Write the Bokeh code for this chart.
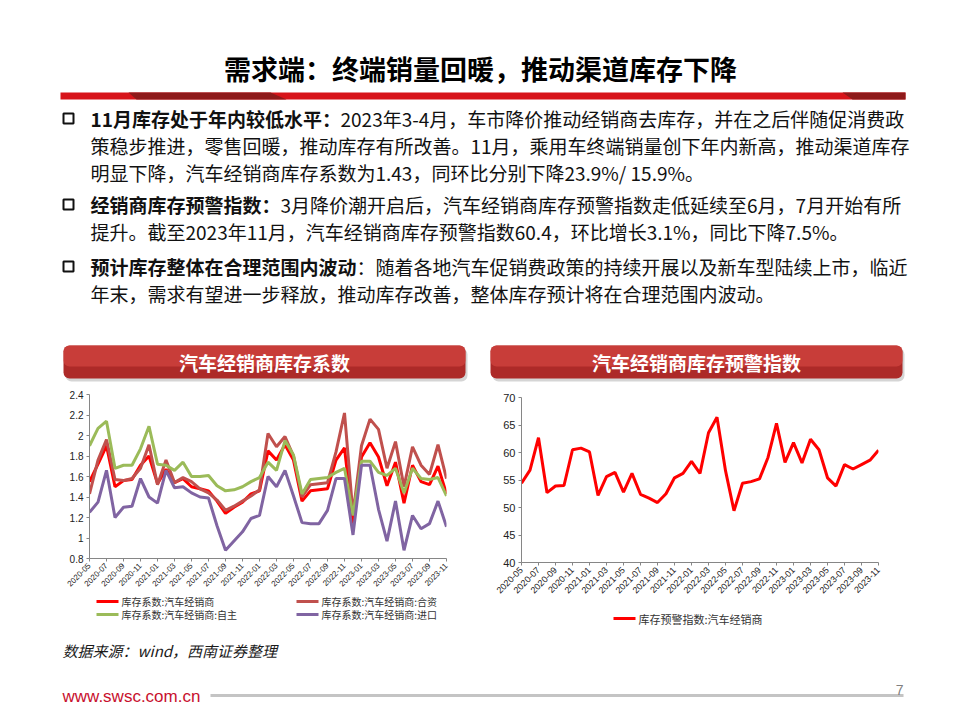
import math
from bokeh.plotting import figure
from bokeh.models import Range1d, Label, FixedTicker, CustomJSTickFormatter
from bokeh.layouts import column, row
from bokeh.embed import file_html
from bokeh.resources import INLINE

# ---------------- data ----------------
months = ["2020-05", "2020-06", "2020-07", "2020-08", "2020-09", "2020-10", "2020-11", "2020-12",
          "2021-01", "2021-02", "2021-03", "2021-04", "2021-05", "2021-06", "2021-07", "2021-08",
          "2021-09", "2021-10", "2021-11", "2021-12", "2022-01", "2022-02", "2022-03", "2022-04",
          "2022-05", "2022-06", "2022-07", "2022-08", "2022-09", "2022-10", "2022-11", "2022-12",
          "2023-01", "2023-02", "2023-03", "2023-04", "2023-05", "2023-06", "2023-07", "2023-08",
          "2023-09", "2023-10", "2023-11"]

coef_dealer = [1.55, 1.72, 1.90, 1.50, 1.56, 1.57, 1.71, 1.80, 1.53, 1.67, 1.54, 1.58, 1.50, 1.48,
               1.46, 1.36, 1.24, 1.30, 1.35, 1.43, 1.46, 1.85, 1.76, 1.91, 1.76, 1.36, 1.46, 1.47,
               1.48, 1.76, 1.88, 1.14, 1.79, 1.93, 1.79, 1.51, 1.74, 1.34, 1.71, 1.55, 1.52, 1.70, 1.43]
coef_jv = [1.43, 1.76, 1.96, 1.57, 1.56, 1.58, 1.68, 1.91, 1.52, 1.76, 1.54, 1.59, 1.55, 1.48,
           1.44, 1.37, 1.27, 1.31, 1.36, 1.41, 1.47, 2.02, 1.89, 1.99, 1.80, 1.40, 1.52, 1.53,
           1.54, 1.84, 2.22, 1.23, 1.90, 2.16, 2.06, 1.68, 1.94, 1.50, 1.89, 1.71, 1.62, 1.91, 1.58]
coef_domestic = [1.90, 2.07, 2.14, 1.68, 1.71, 1.71, 1.87, 2.09, 1.72, 1.71, 1.66, 1.74, 1.60, 1.60,
                 1.61, 1.51, 1.46, 1.47, 1.50, 1.55, 1.59, 1.74, 1.66, 1.95, 1.81, 1.43, 1.57, 1.58,
                 1.59, 1.64, 1.68, 1.22, 1.75, 1.75, 1.64, 1.61, 1.68, 1.44, 1.68, 1.58, 1.57, 1.59, 1.41]
coef_import = [1.25, 1.35, 1.66, 1.20, 1.30, 1.31, 1.58, 1.40, 1.34, 1.66, 1.49, 1.50, 1.44, 1.40,
               1.39, 1.12, 0.88, 0.97, 1.06, 1.19, 1.22, 1.60, 1.50, 1.66, 1.41, 1.15, 1.14, 1.14,
               1.27, 1.58, 1.58, 1.03, 1.71, 1.71, 1.28, 0.97, 1.36, 0.88, 1.22, 1.09, 1.14, 1.36, 1.11]
warning_index = [54.4, 56.8, 62.7, 52.7, 53.9, 54.0, 60.5, 60.8, 60.1, 52.2, 55.6, 56.4, 52.8, 56.2,
                 52.4, 51.7, 50.9, 52.5, 55.4, 56.2, 58.4, 56.2, 63.6, 66.4, 56.7, 49.4, 54.4, 54.7,
                 55.2, 59.1, 65.3, 58.2, 61.8, 58.1, 62.4, 60.5, 55.4, 53.9, 57.8, 57.0, 57.8, 58.6, 60.4]

coef_series = ["库存系数:汽车经销商", "库存系数:汽车经销商:合资",
               "库存系数:汽车经销商:自主", "库存系数:汽车经销商:进口"]
warning_series = "库存预警指数:汽车经销商"
coef_ticks = [0.8, 1.0, 1.2, 1.4, 1.6, 1.8, 2.0, 2.2, 2.4]
warning_ticks = [40, 45, 50, 55, 60, 65, 70]

title_text = "需求端：终端销量回暖，推动渠道库存下降"
left_banner = "汽车经销商库存系数"
right_banner = "汽车经销商库存预警指数"
source_text = "数据来源：wind，西南证券整理"

CJK = "Noto Sans CJK SC"
LAT = "Liberation Sans"
coef_colors = ["#ff0000", "#c0504d", "#9bbb59", "#8064a2"]
warning_color = "#ff0000"


def slide_fig(x0, x1, ytop, ybot, fx0=None, fx1=None):
    """Decoration canvas spanning slide x0..x1 / ytop..ybot.
    If fx0/fx1 are given the frame is restricted to those slide columns
    (so that it lines up with the chart frame above it in a column)."""
    w = x1 - x0
    p = figure(width=w, height=ybot - ytop,
               x_range=Range1d(fx0 if fx0 is not None else x0, fx1 if fx1 is not None else x1),
               y_range=Range1d(ybot, ytop), output_backend="svg", toolbar_location=None,
               x_axis_type=None, y_axis_type=None, min_border=0)
    if fx0 is not None:
        p.min_border_left = fx0 - x0
        p.min_border_right = x1 - fx1
    p.grid.visible = False
    p.outline_line_color = None
    p.background_fill_color = "white"
    p.border_fill_color = "white"
    return p


# ---------------- header ----------------
top = slide_fig(0, 960, 0, 385)
top.add_layout(Label(x=480, y=68, text=title_text, text_align="center", text_baseline="middle",
                     text_font=CJK, text_font_size="27px", text_font_style="bold",
                     text_color="#000000"))
# red rule under title
top.quad(left=60, right=905, top=92, bottom=99, fill_color="#d7141a", line_color=None)
top.patch(x=[128, 270, 286, 136], y=[92, 92, 99, 99], fill_color="#8e1a1a", line_color=None)
top.patch(x=[842, 905, 905, 852], y=[92, 92, 99, 99], fill_color="#8e1a1a", line_color=None)

# bullet text
lines = [
    (118, "11月库存处于年内较低水平：", "2023年3-4月，车市降价推动经销商去库存，并在之后伴随促消费政", 340, True),
    (145, None, "策稳步推进，零售回暖，推动库存有所改善。11月，乘用车终端销量创下年内新高，推动渠道库存", 90, False),
    (172, None, "明显下降，汽车经销商库存系数为1.43，同环比分别下降23.9%/ 15.9%。", 90, False),
    (204, "经销商库存预警指数：", "3月降价潮开启后，汽车经销商库存预警指数走低延续至6月，7月开始有所", 280, True),
    (231, None, "提升。截至2023年11月，汽车经销商库存预警指数60.4，环比增长3.1%，同比下降7.5%。", 90, False),
    (266, "预计库存整体在合理范围内波动", "：随着各地汽车促销费政策的持续开展以及新车型陆续上市，临近", 356, True),
    (293, None, "年末，需求有望进一步释放，推动库存改善，整体库存预计将在合理范围内波动。", 90, False),
]
for y, bold, normal, nx, bullet in lines:
    if bullet:
        top.quad(left=63, right=73, top=y - 5, bottom=y + 5, fill_color=None,
                 line_color="#111111", line_width=2)
    if bold:
        top.add_layout(Label(x=90, y=y, text=bold, text_baseline="middle", text_font=CJK,
                             text_font_size="19px", text_font_style="bold", text_color="#111111"))
    top.add_layout(Label(x=nx, y=y, text=normal, text_baseline="middle", text_font=CJK,
                         text_font_size="19px", text_color="#111111"))

# banners
for (l, r, txt) in [(63, 465, left_banner), (490, 902, right_banner)]:
    top.quad(left=l + 2, right=r + 2, top=348, bottom=381, fill_color="#888888", fill_alpha=0.35,
             line_color=None, border_radius=6)
    top.quad(left=l, right=r, top=345, bottom=378, fill_color="#ad2a28", line_color=None,
             border_radius=6)
    top.quad(left=l, right=r, top=345, bottom=366, fill_color="#d2443f", fill_alpha=0.75,
             line_color=None, border_radius=6)
    top.add_layout(Label(x=(l + r) / 2, y=362, text=txt, text_align="center",
                         text_baseline="middle", text_font=CJK, text_font_size="19px",
                         text_font_style="bold", text_color="white"))


# ---------------- charts ----------------
def style_axes(p, ylab_size, xlab_size):
    for ax in (p.xaxis, p.yaxis):
        ax.axis_line_color = "#868686"
        ax.major_tick_line_color = "#868686"
        ax.major_tick_out = 3
        ax.major_tick_in = 0
        ax.minor_tick_line_color = None
        ax.major_label_text_color = "#222222"
        ax.major_label_text_font = LAT
    p.yaxis.major_label_text_font_size = ylab_size
    p.xaxis.major_label_text_font_size = xlab_size
    p.yaxis.major_label_standoff = 3
    p.xaxis.major_label_standoff = 3
    p.xaxis.ticker = FixedTicker(ticks=list(range(0, len(months), 2)))
    p.xaxis.formatter = CustomJSTickFormatter(args=dict(labels=months),
                                              code="return labels[Math.round(tick)] || ''")
    p.xaxis.major_label_orientation = math.pi / 4
    p.grid.visible = False
    p.outline_line_color = None


def legend_entry(p, x, y, color, label, size):
    p.segment(x0=x, y0=y, x1=x + 22, y1=y, line_color=color, line_width=3)
    p.add_layout(Label(x=x + 25, y=y, text=label, text_baseline="middle", text_font=CJK,
                       text_font_size=size, text_color="#333333"))


xs = list(range(len(months)))

# left chart: figure spans y 385..594, frame 394..558, x 89..446
left = figure(width=480, height=209, x_range=Range1d(0, len(months) - 1),
              y_range=Range1d(coef_ticks[0], coef_ticks[-1]), output_backend="svg",
              toolbar_location=None, min_border_left=89, min_border_right=34,
              min_border_top=9, min_border_bottom=36)
style_axes(left, "10px", "8px")
left.yaxis.ticker = FixedTicker(ticks=coef_ticks)
left.yaxis.formatter = CustomJSTickFormatter(code="return tick.toFixed(1).replace(/\\.0$/, '')")
for vals, c in zip([coef_dealer, coef_jv, coef_domestic, coef_import], coef_colors):
    left.line(xs, vals, line_color=c, line_width=3)

# left legend strip: y 594..635 (frame aligned with chart frame 89..446)
lfoot = slide_fig(0, 480, 594, 635, 89, 446)
legend_pos = [(96, 601), (296, 601), (96, 614), (296, 614)]
for (lx, ly), c, lab in zip(legend_pos, coef_colors, coef_series):
    legend_entry(lfoot, lx, ly, c, lab, "10px")

# right chart: figure spans y 385..604, frame 397..562, x 521..878
right = figure(width=480, height=219, x_range=Range1d(0, len(months) - 1),
               y_range=Range1d(warning_ticks[0], warning_ticks[-1]), output_backend="svg",
               toolbar_location=None, min_border_left=41, min_border_right=82,
               min_border_top=12, min_border_bottom=42)
style_axes(right, "11px", "9px")
right.yaxis.ticker = FixedTicker(ticks=warning_ticks)
right.line(xs, warning_index, line_color=warning_color, line_width=3)

# right legend strip: y 604..635 (frame aligned with chart frame 521..878)
rfoot = slide_fig(480, 960, 604, 635, 521, 878)
legend_entry(rfoot, 613, 618, warning_color, warning_series, "11px")

# ---------------- footer ----------------
foot = slide_fig(0, 960, 635, 720)
foot.add_layout(Label(x=62, y=650, text=source_text, text_baseline="middle", text_font=CJK,
                      text_font_size="15px", text_font_style="italic", text_color="#1a1a1a"))
foot.add_layout(Label(x=62, y=696, text="www.swsc.com.cn", text_baseline="middle",
                      text_font=LAT, text_font_size="17px", text_color="#c8102e"))
foot.segment(x0=210, y0=695, x1=903, y1=695, line_color="#c4c4c4", line_width=3)
foot.add_layout(Label(x=903, y=689, text="7", text_align="right", text_baseline="middle",
                      text_font=LAT, text_font_size="14px", text_color="#808080"))

layout = column(top,
                row(column(left, lfoot, spacing=0), column(right, rfoot, spacing=0), spacing=0),
                foot, spacing=0)
open("out.html", "w").write(file_html(layout, INLINE))
